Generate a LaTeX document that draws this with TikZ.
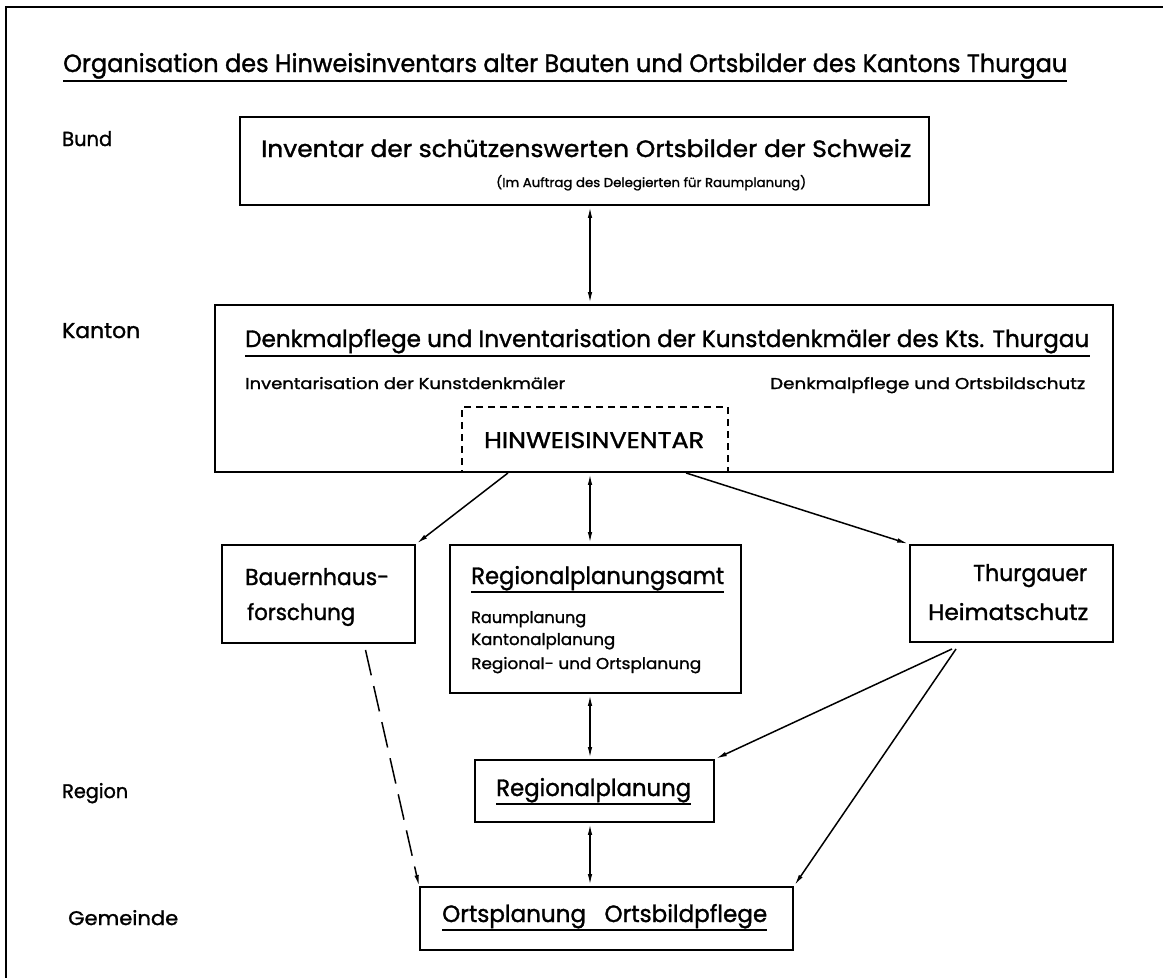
\documentclass[tikz,border=0pt]{standalone}
\usepackage{fontspec}
\setmainfont{Poppins}[FakeBold=1.3]
\usepackage{graphicx}
\usetikzlibrary{arrows.meta,calc}
\newcommand{\fitt}[3]{\resizebox{#1pt}{#2pt}{#3}}
\begin{document}
\begin{tikzpicture}[x=1pt,y=-1pt,
  box/.style={draw, line width=1.9pt, rectangle, inner sep=0pt},
  dbox/.style={draw, line width=1.5pt, rectangle, inner sep=0pt, dash pattern=on 7pt off 5pt},
  txt/.style={inner sep=0pt, anchor=base west},
  uline/.style={line width=1.7pt},
  tip/.tip={Latex[length=11pt,width=4.5pt]},
  arr/.style={-tip, line width=1.5pt, shorten >=1pt},
  dbl/.style={tip-tip, line width=1.5pt, shorten >=1pt, shorten <=1pt},
  dsh/.style={-tip, line width=1.5pt, dash pattern=on 26pt off 11pt}
]
\useasboundingbox (0,0) rectangle (1163,978);
\fill[white] (0,0) rectangle (1163,978);
% frame
\draw[line width=1.2pt] (6,978) -- (6,7) -- (1163,7);

% title
\node[txt] (ttl) at (63,72) {\fitt{1004}{19}{Organisation des Hinweisinventars alter Bauten und Ortsbilder des Kantons Thurgau}};
\draw[uline] ([yshift=-9pt]ttl.base west) -- ([yshift=-9pt]ttl.base east);

% level labels
\node[txt] (lbund) at (62,146) {\fitt{50}{15}{Bund}};
\node[txt] (lkanton) at (62,338) {\fitt{78}{15}{Kanton}};
\node[txt] (lregion) at (62,798) {\fitt{66}{15}{Region}};
\node[txt] (lgem) at (68,925) {\fitt{110}{15}{Gemeinde}};

% boxes
\node[box, minimum width=689pt, minimum height=88pt] (isos) at (584.5,161) {};
\node[box, minimum width=898pt, minimum height=167pt] (kanton) at (664,388.5) {};
\node[dbox, minimum width=266pt, minimum height=65pt] (hinw) at (595,439.5) {};
\node[box, minimum width=193pt, minimum height=98pt] (bauern) at (318.5,594) {};
\node[box, minimum width=291pt, minimum height=148pt] (rpa) at (595.5,619) {};
\node[box, minimum width=203pt, minimum height=97pt] (thurg) at (1011.5,593.5) {};
\node[box, minimum width=239pt, minimum height=62pt] (rp) at (594.5,791) {};
\node[box, minimum width=373pt, minimum height=63pt] (orts) at (606.5,918.5) {};

% texts
\node[txt] (t1) at (261,157) {\fitt{650}{18}{Inventar der schützenswerten Ortsbilder der Schweiz}};
\node[txt] (t2) at (496,187) {\fitt{310}{12}{(Im Auftrag des Delegierten für Raumplanung)}};

\node[txt] (k1) at (245,347) {\fitt{844}{18}{Denkmalpflege und Inventarisation der Kunstdenkmäler des Kts. Thurgau}};
\draw[uline] ([yshift=-9pt]k1.base west) -- ([yshift=-9pt]k1.base east);
\node[txt] (k2) at (245,389) {\fitt{320}{12}{Inventarisation der Kunstdenkmäler}};
\node[txt] (k3) at (770,389) {\fitt{315}{12}{Denkmalpflege und Ortsbildschutz}};
\node[txt] (h1) at (484,448) {\fitt{220}{16}{HINWEISINVENTAR}};

\node[txt] (b1) at (245,585) {\fitt{144}{17}{Bauernhaus-}};
\node[txt] (b2) at (247,620) {\fitt{108}{17}{forschung}};

\node[txt] (r1) at (471,584) {\fitt{253}{18}{Regionalplanungsamt}};
\draw[uline] ([yshift=-8pt]r1.base west) -- ([yshift=-8pt]r1.base east);
\node[txt] (r2) at (471,623) {\fitt{115}{12}{Raumplanung}};
\node[txt] (r3) at (471,645) {\fitt{144}{12}{Kantonalplanung}};
\node[txt] (r4) at (471,669) {\fitt{230}{12}{Regional- und Ortsplanung}};

\node[txt] (th1) at (973,581) {\fitt{114}{17}{Thurgauer}};
\node[txt] (th2) at (928,620) {\fitt{160}{17}{Heimatschutz}};

\node[txt] (rp1) at (496,796) {\fitt{195}{18}{Regionalplanung}};
\draw[uline] ([yshift=-8pt]rp1.base west) -- ([yshift=-8pt]rp1.base east);

\node[txt] (o1) at (442,922) {\fitt{325}{18}{Ortsplanung\hspace{0.8em}Ortsbildpflege}};
\draw[uline] ([yshift=-8pt]o1.base west) -- ([yshift=-8pt]o1.base east);

% connectors
\draw[dbl] (isos.south -| 590,0) -- (kanton.north -| 590,0);
\draw[arr] (kanton.south -| 508,0) -- (bauern.north east);
\draw[dbl] (kanton.south -| 590,0) -- (rpa.north -| 590,0);
\draw[arr] (kanton.south -| 686,0) -- (thurg.north west);
\draw[dbl] (rpa.south -| 590,0) -- (rp.north -| 590,0);
\draw[dbl] (rp.south -| 590,0) -- (orts.north -| 590,0);
\draw[dsh] ($(bauern.south)+(47,6)$) -- (orts.north west);
\draw[arr] ($(thurg.south west)+(43,6)$) -- (rp.north east);
\draw[arr] ($(thurg.south west)+(47,6)$) -- (orts.north east);
\end{tikzpicture}
\end{document}
